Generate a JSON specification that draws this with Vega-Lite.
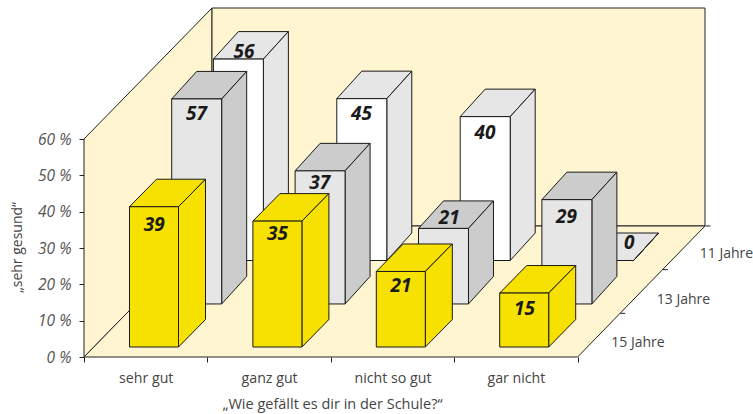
{
"$schema":"https://vega.github.io/schema/vega-lite/v6.json",
"autosize":{"type":"none"},
"padding":{"left":84,"top":8,"right":48,"bottom":57},
"width":621,"height":349,
"background":"white",
"view":{"stroke":null},
"config":{"font":"Open Sans"},
"datasets":{
"balken":[
{"frage":"sehr gut","alter":"11 Jahre","wert":56},
{"frage":"ganz gut","alter":"11 Jahre","wert":45},
{"frage":"nicht so gut","alter":"11 Jahre","wert":40},
{"frage":"gar nicht","alter":"11 Jahre","wert":0},
{"frage":"sehr gut","alter":"13 Jahre","wert":57},
{"frage":"ganz gut","alter":"13 Jahre","wert":37},
{"frage":"nicht so gut","alter":"13 Jahre","wert":21},
{"frage":"gar nicht","alter":"13 Jahre","wert":29},
{"frage":"sehr gut","alter":"15 Jahre","wert":39},
{"frage":"ganz gut","alter":"15 Jahre","wert":35},
{"frage":"nicht so gut","alter":"15 Jahre","wert":21},
{"frage":"gar nicht","alter":"15 Jahre","wert":15}
],
"raum":[
{"flaeche":"links","i":0,"x":0,"y":0},
{"flaeche":"links","i":1,"x":0,"y":60},
{"flaeche":"links","i":2,"x":1.0373,"y":96.06},
{"flaeche":"links","i":3,"x":1.0373,"y":36.06},
{"flaeche":"links","i":4,"x":0,"y":0},
{"flaeche":"hinten","i":0,"x":1.0373,"y":36.06},
{"flaeche":"hinten","i":1,"x":1.0373,"y":96.06},
{"flaeche":"hinten","i":2,"x":5.0324,"y":96.06},
{"flaeche":"hinten","i":3,"x":5.0324,"y":36.06},
{"flaeche":"hinten","i":4,"x":1.0373,"y":36.06},
{"flaeche":"boden","i":0,"x":0,"y":0},
{"flaeche":"boden","i":1,"x":4,"y":0},
{"flaeche":"boden","i":2,"x":5.0324,"y":36.06},
{"flaeche":"boden","i":3,"x":1.0373,"y":36.06},
{"flaeche":"boden","i":4,"x":0,"y":0}
],
"tiefe":[
{"alter":"15 Jahre","x":4.4895,"y":3.85,"m":1},
{"alter":"13 Jahre","x":4.858,"y":15.69,"m":2},
{"alter":"11 Jahre","x":5.2066,"y":28.35,"m":3}
]
},
"encoding":{
"x":{"field":"x","type":"quantitative","scale":{"domain":[0,5.0324],"nice":false,"zero":false},
"axis":{"values":[0,1,2,3,4],"domain":false,"grid":false,"tickSize":5,"tickColor":"#222222","labelOffset":61.7,"labelOverlap":false,"labelBound":false,"labelFlush":false,
"labelExpr":"['sehr gut','ganz gut','nicht so gut','gar nicht',''][datum.value]","labelFont":"Open Sans","labelFontSize":14.2,"labelColor":"#444444","labelPadding":9,
"title":"„Wie gefällt es dir in der Schule?“","titleFont":"Open Sans","titleFontSize":14.5,"titleFontWeight":"normal","titleColor":"#444444","titleX":248,"titleY":40}},
"y":{"field":"y","type":"quantitative","scale":{"domain":[0,96.06],"nice":false,"zero":false},
"axis":{"values":[0,10,20,30,40,50,60],"domain":false,"grid":false,"tickSize":5,"tickColor":"#222222","labelExpr":"datum.value+' %'","labelFont":"Open Sans","labelFontSize":15.5,"labelFontStyle":"italic","labelColor":"#555555","labelPadding":8,"labelOverlap":false,"labelBound":false,"labelFlush":false,
"title":"„sehr gesund“","titleFont":"Open Sans","titleFontSize":14,"titleFontWeight":"normal","titleColor":"#444444","titleX":-60,"titleY":239}}
},
"layer":[
{"data":{"name":"raum"},
"mark":{"type":"line","fill":"#FFF5D0","stroke":"#222222","strokeWidth":1,"strokeJoin":"miter"},
"encoding":{"detail":{"field":"flaeche"},"order":{"field":"i"}}},
{"data":{"name":"tiefe"},
"transform":[
{"calculate":"4+datum.m*0.3458","as":"x"},{"calculate":"datum.m*12.02","as":"y"},{"calculate":"datum.x+0.04","as":"xe"}],
"mark":{"type":"rule","stroke":"#222222","strokeWidth":1},
"encoding":{"x2":{"field":"xe"}}},
{"data":{"name":"balken"},
"transform":[
{"calculate":"indexof(['sehr gut','ganz gut','nicht so gut','gar nicht'],datum.frage)","as":"q"},
{"calculate":"indexof(['15 Jahre','13 Jahre','11 Jahre'],datum.alter)","as":"t"},
{"calculate":"datum.q+0.3687+[0,0.342,0.68][datum.t]","as":"x0"},
{"calculate":"datum.x0+[0.3971,0.405,0.405][datum.t]","as":"x1"},
{"calculate":"[2.75,14.6,26.56][datum.t]","as":"y0"},
{"calculate":"datum.y0+datum.wert*0.99","as":"y1"},
{"calculate":"[0.2188,0.2026,0.2026][datum.t]","as":"d"},
{"calculate":"['oben','seite','front']","as":"face"},
{"flatten":["face"]},
{"calculate":"datum.face=='front'?[datum.x0,datum.x1,datum.x1,datum.x0,datum.x0]:datum.face=='seite'?[datum.x1,datum.x1+datum.d,datum.x1+datum.d,datum.x1,datum.x1]:[datum.x0,datum.x0+datum.d,datum.x1+datum.d,datum.x1,datum.x0]","as":"xs"},
{"calculate":"datum.face=='front'?[datum.y0,datum.y0,datum.y1,datum.y1,datum.y0]:datum.face=='seite'?[datum.y0,datum.y0+7.57,datum.y1+7.57,datum.y1,datum.y0]:[datum.y1,datum.y1+7.57,datum.y1+7.57,datum.y1,datum.y1]","as":"ys"},
{"calculate":"[0,1,2,3,4]","as":"is"},
{"flatten":["xs","ys","is"],"as":["x","y","i"]},
{"calculate":"datum.alter+'|'+datum.face","as":"farbe"},
{"calculate":"datum.frage+'|'+datum.alter+'|'+datum.face","as":"id"}
],
"mark":{"type":"line","stroke":"#1a1a1a","strokeWidth":1,"strokeJoin":"miter"},
"encoding":{
"detail":{"field":"id"},
"order":{"field":"i"},
"fill":{"field":"farbe","type":"nominal","legend":null,"scale":{
"domain":["11 Jahre|oben","11 Jahre|seite","11 Jahre|front","13 Jahre|oben","13 Jahre|seite","13 Jahre|front","15 Jahre|oben","15 Jahre|seite","15 Jahre|front"],
"range":["#E6E6E6","#E6E6E6","#FFFFFF","#CCCCCC","#CCCCCC","#E6E6E6","#F7E100","#F7E100","#F7E100"]}}
}},
{"data":{"name":"balken"},
"transform":[
{"calculate":"indexof(['sehr gut','ganz gut','nicht so gut','gar nicht'],datum.frage)","as":"q"},
{"calculate":"indexof(['15 Jahre','13 Jahre','11 Jahre'],datum.alter)","as":"t"},
{"calculate":"[[18,12.5,15,16],[15,12,-10,17],[-7,15,16,-17.7]][datum.t][datum.q]","as":"off"},
{"calculate":"datum.q+0.3687+[0,0.342,0.68][datum.t]+0.2+(datum.off<0?(datum.wert==0?21:6)/123.4:0)","as":"x"},
{"calculate":"[2.75,14.6,26.56][datum.t]+datum.wert*0.99-datum.off/3.633","as":"y"}
],
"mark":{"type":"text","font":"Open Sans","fontSize":19,"fontWeight":"bold","fontStyle":"italic","fill":"#1a1a1a","align":"center","baseline":"middle"},
"encoding":{"text":{"field":"wert","type":"quantitative"}}},
{"data":{"name":"tiefe"},
"mark":{"type":"text","font":"Open Sans","fontSize":14,"fill":"#444444","align":"center","baseline":"middle"},
"encoding":{"text":{"field":"alter"}}}
]
}
